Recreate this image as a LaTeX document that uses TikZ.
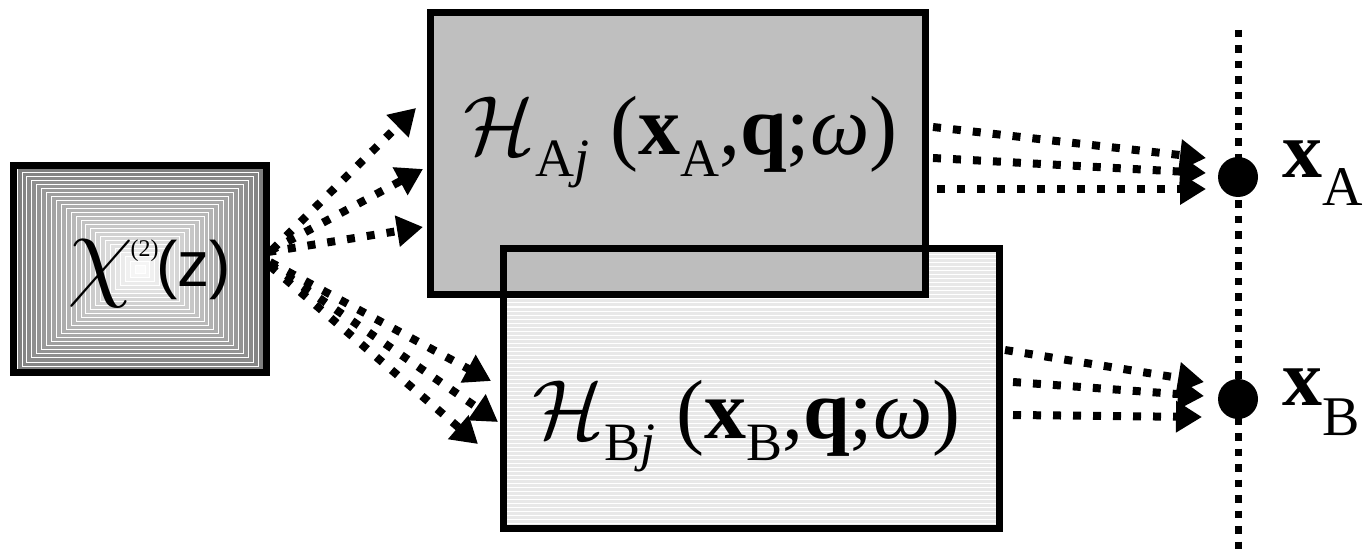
\RequirePackage{fix-cm}
\documentclass[tikz,border=0pt]{standalone}
\usepackage{fontspec}
\setmainfont{Liberation Serif}
\setsansfont{Liberation Sans}
\usetikzlibrary{arrows.meta}
\newcommand\lowsub[2]{\raisebox{-#1}{\fontsize{27}{27}\selectfont #2}}
\newcommand\Hlabel[1]{\fontsize{42}{44}\selectfont$\mathcal{H}$\lowsub{11pt}{#1\textit{j}}\ (\textbf{x}\lowsub{11pt}{#1},\textbf{q};\textit{ω})}
\tikzset{
  boxline/.style={draw=black, line width=3.5pt, inner sep=0pt, outer sep=0pt},
  dotarrow/.style={line width=4pt, dash pattern=on 4pt off 6pt, -{Triangle[length=13pt,width=15pt]}},
  vdots/.style={line width=3.5pt, dash pattern=on 3.75pt off 4pt},
  bigdot/.style={circle, fill=black, inner sep=0pt, minimum size=20pt},
  txt/.style={anchor=base west, inner sep=0pt},
}
\begin{document}
\begin{tikzpicture}[x=0.5pt,y=-0.5pt]
\useasboundingbox (0,0) rectangle (1368,550);
% chi box gradient
\foreach \i in {0,...,24}{
  \pgfmathsetmacro\f{1-\i/25}
  \pgfmathsetmacro\c{50-2.0*\i}
  \fill[black!\c, draw=white, line width=0.4pt] (140-123*\f,269-101*\f) rectangle (140+123*\f,269+101*\f);
}
\node[boxline, minimum width=126.5pt, minimum height=103.75pt] (chi) at (140,269) {};
\node[txt] (chitxt) at (67,286) {\fontsize{54}{54}\selectfont$\chi$\kern-1.5pt\raisebox{15pt}{\fontsize{12}{12}\selectfont(2)}\kern-1pt\fontsize{32}{32}\sffamily(z)};
% boxes
\node[boxline, fill=black!25, minimum width=247.5pt, minimum height=141pt] (boxA) at (677.5,154) {};
\node[boxline, fill=black!9, minimum width=247.75pt, minimum height=139.5pt] (boxB) at (751.25,388.5) {};
\foreach \yy in {255,259,...,525} \draw[white, line width=0.5pt] (506,\yy) -- (996,\yy);
\fill[black!26] (boxB.north west) rectangle (boxA.south east);
\draw[line width=3.5pt] (boxB.south west) rectangle (boxB.north east);
\draw[line width=3.5pt] (boxA.south west) rectangle (boxA.north east);
\node[txt] (textA) at (463,155) {\Hlabel{A}};
\node[txt] (textB) at (532,438) {\Hlabel{B}};
% vertical line and dots
\coordinate (vtop) at (1238,30);
\coordinate (vbot) at (1238,552);
\draw[vdots] (vtop) -- (vbot);
\node[bigdot] (dotA) at (1238,177) {};
\node[bigdot] (dotB) at (1238,399) {};
\node[txt] (labA) at (1282,178) {\fontsize{40}{42}\selectfont\textbf{x}\raisebox{-14pt}{\fontsize{28}{28}\selectfont A}};
\node[txt] (labB) at (1282,405) {\fontsize{40}{42}\selectfont\textbf{x}\raisebox{-15pt}{\fontsize{28}{28}\selectfont B}};
% arrow coordinates
\coordinate (s1) at (272,250);
\coordinate (s2) at (270,251);
\coordinate (s3) at (268,252);
\coordinate (e1) at (416,108);
\coordinate (e2) at (423,169);
\coordinate (e3) at (423,227);
\coordinate (t1) at (270,262);
\coordinate (t2) at (270,264);
\coordinate (t3) at (270,266);
\coordinate (f1) at (491,381);
\coordinate (f2) at (498,422);
\coordinate (f3) at (478,444);
\coordinate (a1) at (933,127);
\coordinate (a2) at (933,158);
\coordinate (a3) at (937,189);
\coordinate (g1) at (1206,158);
\coordinate (g2) at (1206,173);
\coordinate (g3) at (1206,189);
\coordinate (b1) at (1005,350);
\coordinate (b2) at (1013,382);
\coordinate (b3) at (1013,415);
\coordinate (h1) at (1204,382);
\coordinate (h2) at (1204,396);
\coordinate (h3) at (1202,417);
\foreach \p/\q in {s1/e1,s2/e2,s3/e3,t1/f1,t2/f2,t3/f3,a1/g1,a2/g2,a3/g3,b1/h1,b2/h2,b3/h3}
  \draw[dotarrow] (\p) -- (\q);
\end{tikzpicture}
\end{document}
